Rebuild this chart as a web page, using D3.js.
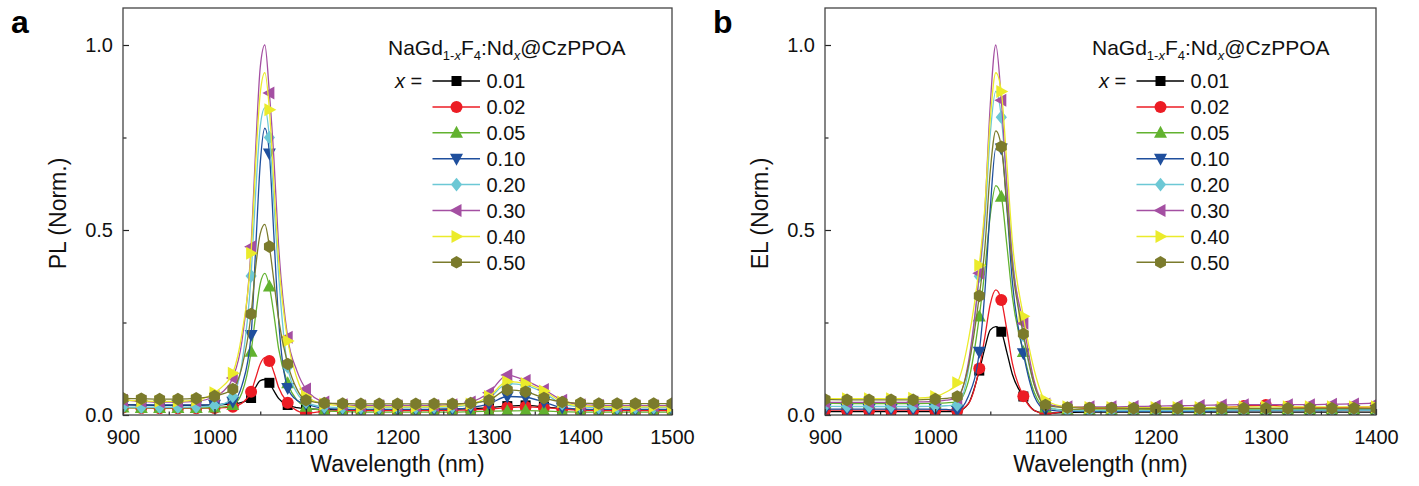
<!DOCTYPE html>
<html>
<head>
<meta charset="utf-8">
<script src="https://cdn.jsdelivr.net/npm/d3@7/dist/d3.min.js"></script>
<style>
  html, body { margin: 0; padding: 0; background: #fff; }
  svg { display: block; font-family: "Liberation Sans", Arial, Helvetica, sans-serif; }
</style>
</head>
<body>
<script>
// ---------------- DATA ----------------
const concentrations = ["0.01", "0.02", "0.05", "0.10", "0.20", "0.30", "0.40", "0.50"];

// Panel a: PL spectra
const wlPL = [900,920,940,960,980,1000,1010,1020,1030,1040,1045,1050,1055,1060,1065,1070,1080,1090,1100,
              1120,1140,1160,1180,1200,1220,1240,1260,1280,1300,1320,1340,1360,1380,1400,1420,1440,1460,1480,1500];
const pl001 = [0.028,0.027,0.026,0.026,0.026,0.027, 0.028,0.03,0.034,0.046,0.075,0.093,0.096,0.087,0.065,0.045,0.027,0.02,0.017,
               0.015,0.014,0.014,0.014,0.014,0.014,0.015,0.016,0.017,0.02,0.024,0.026,0.022,0.017,0.015,0.014,0.014,0.014,0.014,0.014];
const pl002 = [0.02,0.019,0.018,0.018,0.018,0.019, 0.02,0.022,0.032,0.063,0.1,0.138,0.155,0.146,0.115,0.075,0.033,0.012,0.005,
               0.01,0.012,0.012,0.012,0.012,0.012,0.012,0.013,0.014,0.016,0.02,0.022,0.02,0.016,0.013,0.012,0.012,0.012,0.012,0.012];
const pl005 = [0.02,0.019,0.019,0.019,0.019,0.02, 0.022,0.027,0.06,0.171,0.27,0.355,0.383,0.347,0.27,0.18,0.086,0.04,0.022,
               0.012,0.009,0.008,0.008,0.008,0.008,0.008,0.008,0.009,0.01,0.011,0.012,0.011,0.009,0.008,0.008,0.008,0.008,0.008,0.008];
const pl010 = [0.028,0.027,0.027,0.027,0.027,0.028, 0.03,0.036,0.08,0.216,0.45,0.68,0.775,0.707,0.48,0.26,0.073,0.04,0.03,
               0.018,0.016,0.015,0.015,0.015,0.015,0.015,0.016,0.02,0.03,0.05,0.048,0.035,0.02,0.016,0.015,0.015,0.015,0.015,0.015];
const pl020 = [0.022,0.021,0.021,0.021,0.022,0.025, 0.03,0.05,0.14,0.376,0.6,0.78,0.83,0.75,0.57,0.38,0.13,0.06,0.035,
               0.022,0.02,0.02,0.02,0.02,0.02,0.021,0.022,0.028,0.045,0.085,0.08,0.06,0.03,0.022,0.02,0.02,0.02,0.02,0.02];
const pl030 = [0.04,0.037,0.035,0.035,0.037,0.05, 0.065,0.1,0.2,0.455,0.72,0.94,1.0,0.87,0.69,0.46,0.21,0.12,0.07,
               0.035,0.028,0.025,0.025,0.025,0.025,0.026,0.028,0.035,0.06,0.108,0.093,0.069,0.04,0.028,0.026,0.025,0.025,0.025,0.025];
const pl040 = [0.04,0.038,0.037,0.037,0.04,0.06, 0.08,0.113,0.22,0.437,0.68,0.87,0.925,0.825,0.62,0.42,0.2,0.1,0.05,
               0.03,0.025,0.022,0.022,0.022,0.022,0.023,0.025,0.03,0.05,0.09,0.085,0.065,0.035,0.025,0.023,0.022,0.022,0.022,0.022];
const pl050 = [0.045,0.044,0.043,0.043,0.045,0.051, 0.058,0.07,0.13,0.273,0.4,0.49,0.515,0.455,0.36,0.26,0.138,0.07,0.04,
               0.032,0.031,0.03,0.03,0.03,0.03,0.03,0.03,0.032,0.04,0.068,0.063,0.046,0.035,0.032,0.031,0.031,0.031,0.031,0.031];

// Panel b: EL spectra
const wlEL = [900,920,940,960,980,1000,1010,1020,1030,1040,1045,1050,1055,1060,1065,1070,1080,1090,1100,
              1120,1140,1160,1180,1200,1220,1240,1260,1280,1300,1320,1340,1360,1380,1400];
const el001 = [0.009,0.009,0.009,0.009,0.009,0.009, 0.009,0.01,0.03,0.12,0.18,0.23,0.239,0.225,0.17,0.11,0.05,0.012,0.005,
               0.007,0.008,0.008,0.008,0.008,0.008,0.008,0.008,0.008,0.008,0.008,0.008,0.008,0.008,0.008];
const el002 = [0.013,0.013,0.013,0.013,0.013,0.013, 0.013,0.012,0.03,0.126,0.21,0.3,0.338,0.311,0.23,0.14,0.051,0.012,0.003,
               0.012,0.018,0.018,0.017,0.016,0.016,0.017,0.02,0.024,0.027,0.022,0.02,0.02,0.021,0.022];
const el005 = [0.032,0.031,0.031,0.031,0.031,0.032, 0.033,0.035,0.09,0.266,0.39,0.54,0.62,0.59,0.46,0.32,0.17,0.06,0.02,
               0.014,0.014,0.014,0.014,0.014,0.014,0.014,0.014,0.015,0.015,0.015,0.015,0.015,0.015,0.015];
const el010 = [0.016,0.016,0.016,0.016,0.016,0.016, 0.015,0.013,0.05,0.171,0.33,0.56,0.72,0.72,0.56,0.36,0.167,0.05,0.015,
               0.01,0.01,0.01,0.01,0.01,0.01,0.01,0.011,0.012,0.012,0.012,0.012,0.012,0.013,0.013];
const el020 = [0.024,0.023,0.023,0.023,0.023,0.024, 0.025,0.027,0.12,0.375,0.52,0.76,0.875,0.805,0.62,0.43,0.215,0.08,0.025,
               0.012,0.012,0.012,0.012,0.012,0.012,0.012,0.013,0.013,0.013,0.013,0.013,0.013,0.013,0.013];
const el030 = [0.035,0.034,0.034,0.034,0.035,0.037, 0.04,0.045,0.14,0.383,0.55,0.84,1.0,0.851,0.62,0.42,0.248,0.09,0.03,
               0.022,0.022,0.022,0.023,0.024,0.025,0.026,0.027,0.028,0.028,0.028,0.028,0.029,0.03,0.032];
const el040 = [0.045,0.044,0.044,0.044,0.045,0.05, 0.062,0.087,0.2,0.405,0.56,0.8,0.925,0.874,0.68,0.47,0.267,0.12,0.04,
               0.022,0.02,0.02,0.02,0.02,0.02,0.02,0.021,0.022,0.022,0.022,0.022,0.022,0.022,0.022];
const el050 = [0.042,0.041,0.041,0.041,0.041,0.043, 0.045,0.05,0.13,0.322,0.45,0.66,0.768,0.725,0.57,0.4,0.219,0.08,0.027,
               0.02,0.019,0.019,0.018,0.018,0.018,0.018,0.018,0.018,0.018,0.018,0.018,0.018,0.018,0.018];

const xTicksPL = [900,1000,1100,1200,1300,1400,1500];
const xMinorPL = [950,1050,1150,1250,1350,1450];
const xTicksEL = [900,1000,1100,1200,1300,1400];
const xMinorEL = [950,1050,1150,1250,1350];
const yTicks = [0, 0.5, 1.0];
const yTickLabels = ["0.0", "0.5", "1.0"];
const yMinor = [0.25, 0.75];

// ---------------- STYLE ----------------
const colors = ["#000000","#ec1c24","#62b22f","#1f4f9d","#6cc8d5","#a44fa2","#ebeb2b","#7b7b2c"];
const shapes = ["square","circle","triUp","triDown","diamond","triLeft","triRight","hexagon"];

function markerPath(shape) {
  switch (shape) {
    case "square": return "M-5,-5h10v10h-10z";
    case "circle": return "M-6,0a6,6 0 1,0 12,0a6,6 0 1,0 -12,0z";
    case "triUp": return "M0,-7L6.5,5L-6.5,5z";
    case "triDown": return "M0,7L6.5,-5L-6.5,-5z";
    case "diamond": return "M0,-6.8L5.6,0L0,6.8L-5.6,0z";
    case "triLeft": return "M-7,0L5,-6.5L5,6.5z";
    case "triRight": return "M7,0L-5,-6.5L-5,6.5z";
    case "hexagon": {
      const r = 6.3; let d = "";
      for (let k = 0; k < 6; k++) {
        const a = (-90 + 60 * k) * Math.PI / 180;
        d += (k ? "L" : "M") + (r * Math.cos(a)).toFixed(2) + "," + (r * Math.sin(a)).toFixed(2);
      }
      return d + "z";
    }
  }
}

const W = 1419, H = 486;
const svg = d3.select("body").append("svg").attr("width", W).attr("height", H);

function drawPanel(cfg) {
  const x = d3.scaleLinear().domain(cfg.xDomain).range([cfg.left, cfg.right]);
  const y = d3.scaleLinear().domain([0, 1.1]).range([cfg.bottom, cfg.top]);
  const g = svg.append("g");

  const clipId = "clip-" + cfg.letter;
  svg.append("clipPath").attr("id", clipId).append("rect")
    .attr("x", cfg.left).attr("y", cfg.top)
    .attr("width", cfg.right - cfg.left).attr("height", cfg.bottom - cfg.top);

  // Series
  const line = d3.line().x((d, i) => x(cfg.wl[i])).y(d => y(d)).curve(d3.curveMonotoneX);
  const plot = g.append("g").attr("clip-path", `url(#${clipId})`);
  cfg.series.forEach((vals, si) => {
    plot.append("path").attr("d", line(vals))
      .attr("fill", "none").attr("stroke", colors[si]).attr("stroke-width", 1.3);
    const pts = vals.map((v, i) => [cfg.wl[i], v]).filter(p => p[0] % 20 === 0);
    plot.selectAll(null).data(pts).enter().append("path")
      .attr("d", markerPath(shapes[si]))
      .attr("transform", p => `translate(${x(p[0])},${y(p[1])})`)
      .attr("fill", colors[si]);
  });

  // Axes
  const fs = "20px";
  const xAxis = g.append("g").attr("transform", `translate(0,${cfg.bottom})`)
    .call(d3.axisBottom(x).tickValues(cfg.xTicks).tickFormat(d3.format("d"))
      .tickSizeInner(-6).tickSizeOuter(0).tickPadding(15));
  const xAxisMinor = g.append("g").attr("transform", `translate(0,${cfg.bottom})`)
    .call(d3.axisBottom(x).tickValues(cfg.xMinor).tickFormat("").tickSizeInner(-3.5).tickSizeOuter(0));
  const yAxis = g.append("g").attr("transform", `translate(${cfg.left},0)`)
    .call(d3.axisLeft(y).tickValues(yTicks).tickFormat((d, i) => yTickLabels[i])
      .tickSizeInner(-6).tickSizeOuter(0).tickPadding(10));
  const yAxisMinor = g.append("g").attr("transform", `translate(${cfg.left},0)`)
    .call(d3.axisLeft(y).tickValues(yMinor).tickFormat("").tickSizeInner(-3.5).tickSizeOuter(0));
  [xAxis, xAxisMinor, yAxis, yAxisMinor].forEach(a => {
    a.select(".domain").remove();
    a.selectAll("line").attr("stroke", "#222").attr("stroke-width", 1.2);
    a.selectAll("text").attr("font-size", fs).attr("fill", "#111")
      .style("font-family", '"Liberation Sans", Arial, sans-serif');
  });

  // Frame
  g.append("rect").attr("x", cfg.left).attr("y", cfg.top)
    .attr("width", cfg.right - cfg.left).attr("height", cfg.bottom - cfg.top)
    .attr("fill", "none").attr("stroke", "#444").attr("stroke-width", 1.3);

  // Axis titles
  g.append("text").attr("x", (cfg.left + cfg.right) / 2).attr("y", 472)
    .attr("text-anchor", "middle").attr("font-size", "23px").attr("fill", "#111")
    .text("Wavelength (nm)");
  g.append("text").attr("transform", `translate(${cfg.left - 57},${(cfg.top + cfg.bottom) / 2 + 2}) rotate(-90)`)
    .attr("text-anchor", "middle").attr("font-size", "23px").attr("fill", "#111")
    .text(cfg.ylabel);

  // Panel letter
  g.append("text").attr("x", cfg.letterX).attr("y", 33)
    .attr("font-size", "32px").attr("font-weight", "bold").attr("fill", "#000")
    .text(cfg.letter);

  // Legend
  const R = cfg.right;
  const title = g.append("text").attr("x", R - 284).attr("y", 54.5)
    .attr("font-size", "21px").attr("fill", "#111");
  title.append("tspan").text("NaGd");
  title.append("tspan").attr("font-size", "13px").attr("dy", 5).text("1-");
  title.append("tspan").attr("font-size", "13px").attr("font-style", "italic").text("x");
  title.append("tspan").attr("dy", -5).text("F");
  title.append("tspan").attr("font-size", "13px").attr("dy", 5).text("4");
  title.append("tspan").attr("dy", -5).text(":Nd");
  title.append("tspan").attr("font-size", "13px").attr("font-style", "italic").attr("dy", 5).text("x");
  title.append("tspan").attr("dy", -5).text("@CzPPOA");

  const xeq = g.append("text").attr("x", R - 277).attr("y", 81 + 7)
    .attr("font-size", "20px").attr("fill", "#111");
  xeq.append("tspan").attr("font-style", "italic").text("x");
  xeq.append("tspan").text(" =");

  concentrations.forEach((c, i) => {
    const ry = 81 + i * 25.9;
    g.append("line").attr("x1", R - 239.5).attr("x2", R - 192).attr("y1", ry).attr("y2", ry)
      .attr("stroke", colors[i]).attr("stroke-width", 1.5);
    g.append("path").attr("d", markerPath(shapes[i]))
      .attr("transform", `translate(${R - 215.5},${ry})`).attr("fill", colors[i]);
    g.append("text").attr("x", R - 185.5).attr("y", ry + 7.2)
      .attr("font-size", "20px").attr("fill", "#111").text(c);
  });
}

drawPanel({
  letter: "a", letterX: 11, left: 123, right: 672, top: 8, bottom: 415,
  xDomain: [900, 1500], xTicks: xTicksPL, xMinor: xMinorPL, wl: wlPL,
  series: [pl001, pl002, pl005, pl010, pl020, pl030, pl040, pl050], ylabel: "PL (Norm.)"
});
drawPanel({
  letter: "b", letterX: 713, left: 825, right: 1376, top: 8, bottom: 415,
  xDomain: [900, 1400], xTicks: xTicksEL, xMinor: xMinorEL, wl: wlEL,
  series: [el001, el002, el005, el010, el020, el030, el040, el050], ylabel: "EL (Norm.)"
});
</script>
</body>
</html>
